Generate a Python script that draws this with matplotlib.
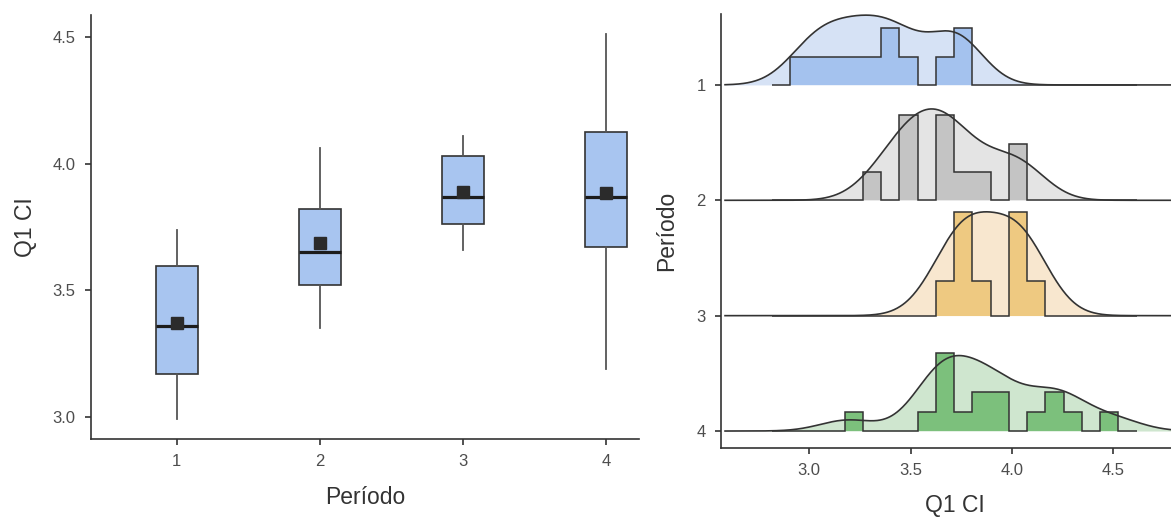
import matplotlib
matplotlib.use("Agg")
import matplotlib.pyplot as plt
import numpy as np

plt.rcParams["font.family"] = ["Liberation Sans", "DejaVu Sans"]

# Q1 CI scores per period
periods = ["1", "2", "3", "4"]
q1_p1 = [2.99, 3.04, 3.12, 3.22, 3.27, 3.36, 3.43, 3.48, 3.71, 3.72, 3.74]
q1_p2 = [3.35, 3.46, 3.51, 3.53, 3.64, 3.65, 3.68, 3.76, 3.88, 4.02, 4.06]
q1_p3 = [3.66, 3.75, 3.76, 3.80, 3.87, 3.99, 4.03, 4.04, 4.11]
q1_p4 = [3.19, 3.58, 3.63, 3.66, 3.675, 3.70, 3.75, 3.845, 3.89, 3.91, 3.95,
         4.10, 4.20, 4.23, 4.30, 4.51]
groups = [q1_p1, q1_p2, q1_p3, q1_p4]

# histogram bins and density grid for the ridgelines
bin_start, bin_width, n_bins = 2.815, 0.09, 20
dens_from, dens_to = 2.585, 4.95

dens_fill = ["#d6e2f5", "#e4e4e4", "#f8e7cf", "#cfe6cf"]
hist_fill = ["#a4c2ee", "#c4c4c4", "#eec981", "#7cc07c"]
box_fill = "#a8c5f0"
dark = "#333333"
tick_col = "#4d4d4d"
ridge_scale = 0.9


def nrd0(x):
    x = np.asarray(x)
    sd = x.std(ddof=1)
    iqr = np.subtract(*np.percentile(x, [75, 25]))
    return 0.9 * min(sd, iqr / 1.34) * len(x) ** -0.2


def kde(x, grid, bw):
    x = np.asarray(x)
    z = (grid[:, None] - x[None, :]) / bw
    return np.exp(-0.5 * z ** 2).sum(axis=1) / (len(x) * bw * np.sqrt(2 * np.pi))


fig = plt.figure(figsize=(11.71, 5.2), dpi=100)

# ---- left: boxplots with means
ax = fig.add_axes([0.0777, 0.1558, 0.468, 0.8154])
pos = np.arange(1, len(groups) + 1)
ax.boxplot(groups, positions=pos, widths=0.29, patch_artist=True,
           showmeans=True, showcaps=False, showfliers=False, whis=1.5,
           boxprops=dict(facecolor=box_fill, edgecolor=dark, linewidth=1.2),
           whiskerprops=dict(color="#555555", linewidth=1.3),
           medianprops=dict(color="#1c1c1c", linewidth=2.3),
           meanprops=dict(marker="s", markersize=9, markerfacecolor="#2b2b2b",
                          markeredgecolor="#2b2b2b"))
ax.set_xlim(0.4, 4.23)
ax.set_ylim(2.913, 4.587)
ax.set_yticks([3.0, 3.5, 4.0, 4.5])
ax.set_yticklabels(["3.0", "3.5", "4.0", "4.5"])
ax.set_xticks(pos)
ax.set_xticklabels(periods)
ax.set_xlabel("Período", fontsize=16.5, color=dark, labelpad=12)
ax.set_ylabel("Q1 CI", fontsize=16.5, color=dark, labelpad=11)

# ---- right: density ridgelines with binned outlines
ar = fig.add_axes([0.6157, 0.1385, 0.40, 0.8346])
grid = np.linspace(dens_from, dens_to, 600)
edges = bin_start + bin_width * np.arange(n_bins + 1)
bw_joint = np.mean([nrd0(g) for g in groups])
dens = [kde(g, grid, bw_joint) for g in groups]
hists = [np.histogram(g, bins=edges)[0] / (len(g) * bin_width) for g in groups]
dmax = max(d.max() for d in dens)
hmax = max(h.max() for h in hists)

for k, g in enumerate(groups):
    base = len(groups) - k
    dh = base + dens[k] / dmax * ridge_scale
    hh = base + hists[k] / hmax * ridge_scale
    ar.fill_between(grid, base, dh, color=dens_fill[k], linewidth=0, zorder=2)
    ar.stairs(hh, edges, baseline=base, fill=True, color=hist_fill[k], zorder=3)
    ar.stairs(hh, edges, baseline=base, color=dark, linewidth=1.1, zorder=4)
    ar.plot(grid, dh, color=dark, linewidth=1.2, zorder=5)

ar.set_xlim(2.565, 4.875)
ar.set_ylim(0.853, 4.615)
ar.set_yticks([4, 3, 2, 1])
ar.set_yticklabels(periods)
ar.set_xticks([3.0, 3.5, 4.0, 4.5])
ar.set_xticklabels(["3.0", "3.5", "4.0", "4.5"])
ar.set_xlabel("Q1 CI", fontsize=16.5, color=dark, labelpad=11)
ar.set_ylabel("Período", fontsize=16.5, color=dark, labelpad=13)

for a in (ax, ar):
    for side in ("top", "right"):
        a.spines[side].set_visible(False)
    for side in ("left", "bottom"):
        a.spines[side].set_color(dark)
        a.spines[side].set_linewidth(1.2)
    a.tick_params(colors=dark, labelcolor=tick_col, labelsize=12,
                  length=4, width=1.2, pad=7)

fig.savefig("out.png", dpi=100)
